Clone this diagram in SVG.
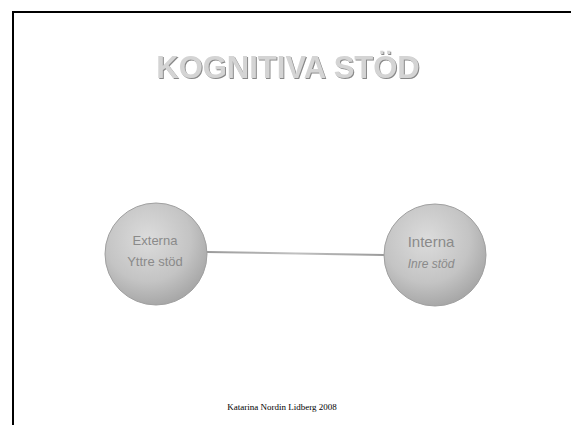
<svg xmlns="http://www.w3.org/2000/svg" width="571" height="425" viewBox="0 0 571 425">
<defs>
<radialGradient id="ball" cx="0.42" cy="0.35" r="0.7">
<stop offset="0" stop-color="#dcdcdc"/>
<stop offset="0.6" stop-color="#c4c4c4"/>
<stop offset="1" stop-color="#a2a2a2"/>
</radialGradient>
<linearGradient id="lineg" x1="0" y1="0" x2="1" y2="0">
<stop offset="0" stop-color="#9a9a9a"/>
<stop offset="0.5" stop-color="#c0c0c0"/>
<stop offset="1" stop-color="#9a9a9a"/>
</linearGradient>
<filter id="emb" x="-10%" y="-20%" width="120%" height="140%">
<feOffset in="SourceAlpha" dx="1" dy="1" result="o"/>
<feFlood flood-color="#888"/>
<feComposite in2="o" operator="in" result="s"/>
<feMerge><feMergeNode in="s"/><feMergeNode in="SourceGraphic"/></feMerge>
</filter>
</defs>
<style>
.frame{fill:none;stroke:#000;stroke-width:2}
.node{fill:url(#ball);stroke:#a0a0a0;stroke-width:1}
.lbl{font-family:"Liberation Sans",Arial,sans-serif;fill:#8a8a8a;text-anchor:middle}
.title{font-family:"Liberation Sans",Arial,sans-serif;font-weight:bold;font-size:31px;fill:#d4d4d4;text-anchor:middle}
.foot{font-family:"Liberation Serif","Times New Roman",serif;font-size:9px;fill:#000;text-anchor:middle}
</style>
<rect width="571" height="425" fill="#fff"/>
<path class="frame" d="M13 425 V12 H571"/>
<text class="title" x="288" y="78" filter="url(#emb)">KOGNITIVA STÖD</text>
<g id="connectors">
<line x1="207" y1="252" x2="384" y2="255" stroke="url(#lineg)" stroke-width="2"/>
</g>
<g id="externa">
<circle class="node" cx="156" cy="254" r="51"/>
<text class="lbl" x="155" y="245" font-size="13">Externa</text>
<text class="lbl" x="155" y="266" font-size="13">Yttre stöd</text>
</g>
<g id="interna">
<circle class="node" cx="435" cy="255" r="51"/>
<text class="lbl" x="431" y="247" font-size="15">Interna</text>
<text class="lbl" x="431" y="268" font-size="12" font-style="italic">Inre stöd</text>
</g>
<text class="foot" x="282" y="410">Katarina Nordin Lidberg 2008</text>
</svg>
